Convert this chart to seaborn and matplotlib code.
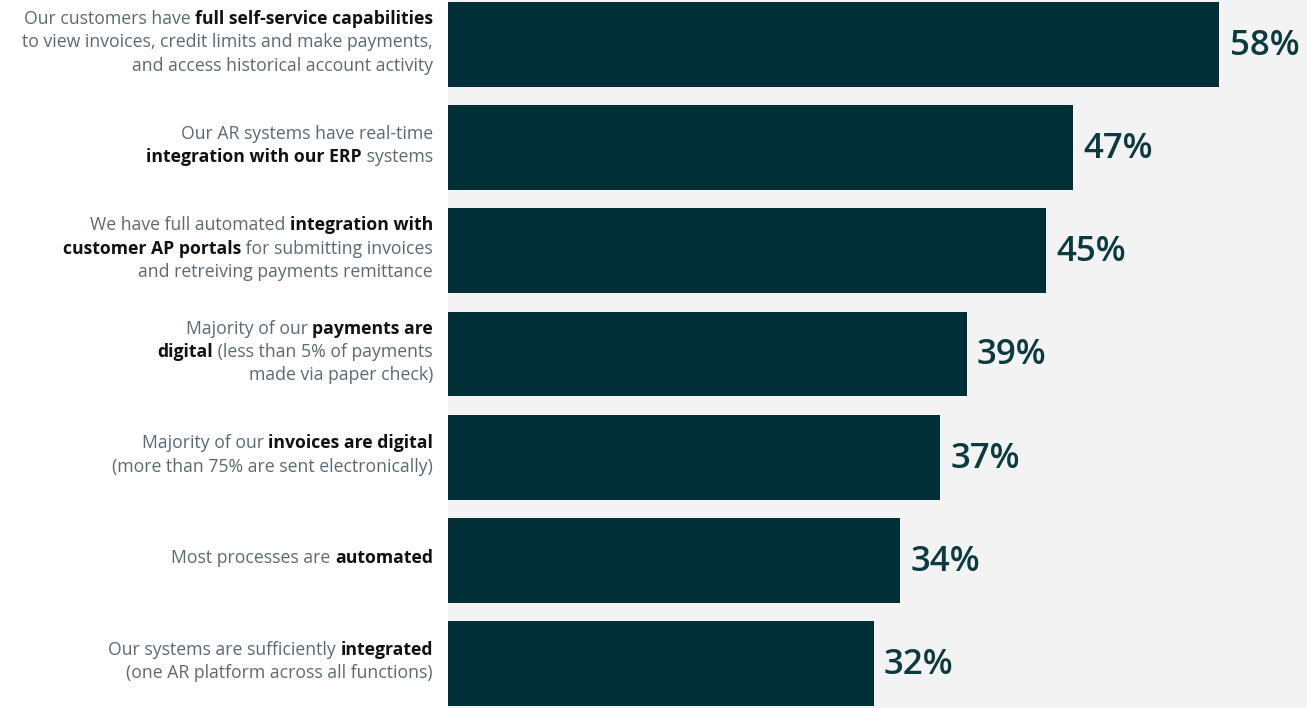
import matplotlib
matplotlib.use("Agg")
import matplotlib.pyplot as plt
import seaborn as sns
import pandas as pd

# ---- data -------------------------------------------------------------
categories = [
    "Full self-service capabilities",
    "Integration with our ERP",
    "Integration with customer AP portals",
    "Payments are digital",
    "Invoices are digital",
    "Automated",
    "Integrated",
]
values = [58, 47, 45, 39, 37, 34, 32]

# label lines: each line is a list of (text, is_bold) pieces
label_lines = [
    [[("Our customers have ", False), ("full self-service capabilities", True)],
     [("to view invoices, credit limits and make payments,", False)],
     [("and access historical account activity", False)]],
    [[("Our AR systems have real-time", False)],
     [("integration with our ERP", True), (" systems", False)]],
    [[("We have full automated ", False), ("integration with", True)],
     [("customer AP portals", True), (" for submitting invoices", False)],
     [("and retreiving payments remittance", False)]],
    [[("Majority of our ", False), ("payments are", True)],
     [("digital", True), (" (less than 5% of payments", False)],
     [("made via paper check)", False)]],
    [[("Majority of our ", False), ("invoices are digital", True)],
     [("(more than 75% are sent electronically)", False)]],
    [[("Most processes are ", False), ("automated", True)]],
    [[("Our systems are sufficiently ", False), ("integrated", True)],
     [("(one AR platform across all functions)", False)]],
]

# ---- style ------------------------------------------------------------
BAR = "#002f37"
PANEL = "#f3f3f3"
TXT = "#5b6a72"
BOLD = "#111111"
VAL = "#0b3a40"
FONT = ["Open Sans", "DejaVu Sans"]

sns.set_theme(style="white")
plt.rcParams["font.family"] = FONT

W, H, DPI = 1307, 708, 100
fig = plt.figure(figsize=(W / DPI, H / DPI), dpi=DPI, facecolor="white")
ax = fig.add_axes([448 / W, 0, 1 - 448 / W, 1])
ax.set_facecolor(PANEL)

df = pd.DataFrame({"category": categories, "value": values})
sns.barplot(data=df, x="value", y="category", order=categories, orient="h",
            color=BAR, saturation=1, width=0.82, linewidth=0, ax=ax)

ax.set_xlim(0, 64.6)
ax.set_ylim(6.43, -0.43)
ax.set_xlabel("")
ax.set_ylabel("")
ax.set_xticks([])
ax.set_yticks([])
for s in ax.spines.values():
    s.set_visible(False)

# value labels at bar ends
for i, v in enumerate(values):
    ax.annotate(f"{v}%", xy=(v, i), xytext=(7.5, -1), textcoords="offset points",
                ha="left", va="center", fontsize=25, color=VAL,
                fontweight="semibold")

# category labels with mixed weights, right-aligned left of the panel
fig.canvas.draw()
renderer = fig.canvas.get_renderer()
right_px = 433
line_h = 23.5
fs = 12.7
for i, lines in enumerate(label_lines):
    cy = ax.transData.transform((0, i))[1] + 2
    n = len(lines)
    for k, pieces in enumerate(lines):
        y = cy - (k - (n - 1) / 2) * line_h
        x = right_px
        for text, bold in reversed(pieces):
            t = fig.text(x / W, y / H, text, ha="right", va="center",
                         fontsize=fs, color=BOLD if bold else TXT,
                         fontweight="bold" if bold else "normal")
            bb = t.get_window_extent(renderer)
            x = bb.x0

fig.savefig("out.png", dpi=DPI, facecolor="white")
